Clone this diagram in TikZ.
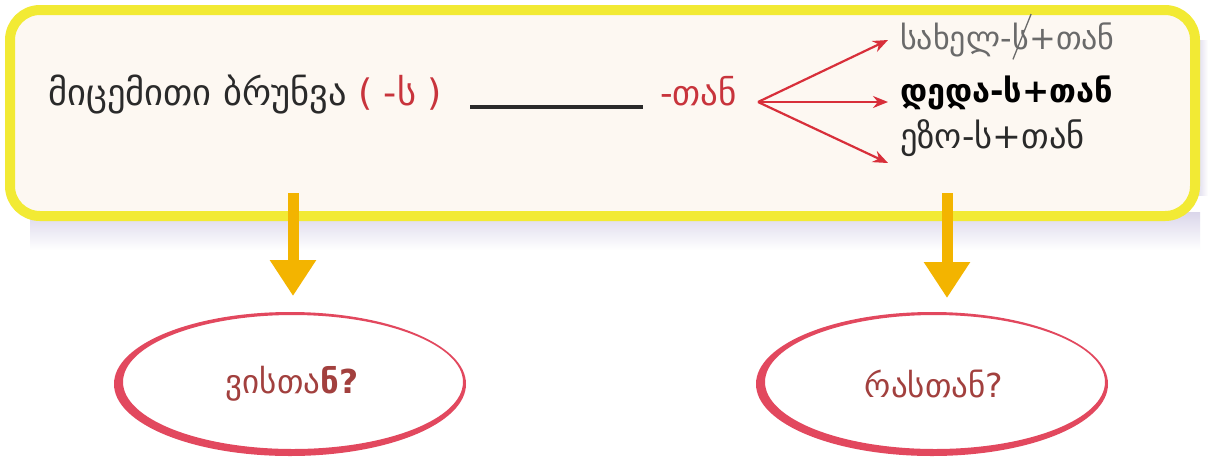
\documentclass[tikz,border=0pt]{standalone}
\usepackage{fontspec}
\setmainfont{DejaVu Sans}
\usetikzlibrary{arrows.meta,shapes.geometric}
\definecolor{boxyellow}{HTML}{F2EA34}
\definecolor{boxfill}{HTML}{FDF8F2}
\definecolor{shadowc}{HTML}{DAD6EA}
\definecolor{redc}{HTML}{C8343C}
\definecolor{arrred}{HTML}{D82F3A}
\definecolor{ellred}{HTML}{E2485E}
\definecolor{qcol}{HTML}{A2403E}
\definecolor{orangec}{HTML}{F3B400}
\definecolor{darktext}{HTML}{2A2A2A}
\definecolor{graytext}{HTML}{6A6A6A}
\tikzset{
  mainbox/.style={draw=boxyellow, line width=10pt, fill=boxfill, rounded corners=30pt,
    minimum width=1185pt, minimum height=206pt, inner sep=0pt},
  maintext/.style={font=\fontsize{36.5}{40}\selectfont, text=darktext, inner sep=0pt},
  formtext/.style={font=\fontsize{32}{36}\selectfont, inner sep=0pt},
  redarrow/.style={draw=arrred, line width=2.2pt, -{Stealth[length=15pt,width=12pt]}},
  blackline/.style={draw=darktext, line width=4pt},
  orangearrow/.style={draw=orangec, line width=11pt, -{Triangle[length=36pt,width=44pt]}},
  qtext/.style={font=\fontsize{33}{38}\selectfont, text=qcol, inner sep=0pt},
  brush/.style={fill=ellred, even odd rule}
}
\begin{document}
\begin{tikzpicture}[x=1pt,y=-1pt]
\useasboundingbox (0,0) rectangle (1208,459);
\fill[white] (0,0) rectangle (1208,459);
% shadow of the box
\shade[top color=shadowc, bottom color=white] (30,212) rectangle (1200,250);
\shade[left color=shadowc, right color=white] (1196,40) rectangle (1208,195);
% main box
\node[mainbox] (box) at (602.5,113) {};
% left text
\node[maintext, anchor=mid west] (case) at (48,103) {მიცემითი ბრუნვა \textcolor{redc}{( -ს )}};
\coordinate (lineL) at (470,107);
\coordinate (lineR) at (643,107);
\draw[blackline] (lineL) -- (lineR);
\node[maintext, font=\fontsize{35}{40}\selectfont, text=redc, anchor=mid west] (than) at (660,103) {-თან};
% fork of arrows
\coordinate (fork) at (758,102);
\coordinate (t1) at (888,40);
\coordinate (t2) at (888,102);
\coordinate (t3) at (888,163);
\draw[redarrow] (fork) -- (t1);
\draw[redarrow] (fork) -- (t2);
\draw[redarrow] (fork) -- (t3);
% right forms
\node[formtext, text=graytext, anchor=mid west] (f1a) at (900,47) {სახელ-};
\node[formtext, text=graytext, anchor=base west] (f1b) at (f1a.base east) {ს};
\node[formtext, text=graytext, anchor=base west] (f1c) at (f1b.base east) {+თან};
\draw[graytext, line width=1.3pt] ([xshift=1pt,yshift=-9pt]f1b.south west) -- ([xshift=2pt,yshift=9pt]f1b.north east);
\node[formtext, text=black, font=\fontsize{32.5}{36}\selectfont\bfseries, anchor=mid west] (f2) at (900,100) {დედა-ს+თან};
\node[formtext, text=darktext, font=\fontsize{34.5}{38}\selectfont, anchor=mid west] (f3) at (900,146) {ეზო-ს+თან};
% question ellipses
\node[qtext] (q1) at (292,384) {ვისთა\textbf{ნ?}};
\node[qtext] (q2) at (934,384) {რასთან?};
\fill[brush] (290,384) ellipse [x radius=176pt, y radius=72pt]
  (293,382) ellipse [x radius=170pt, y radius=67pt];
\fill[brush] (932,384) ellipse [x radius=176pt, y radius=72pt]
  (935,382) ellipse [x radius=170pt, y radius=67pt];
% orange arrows
\coordinate (a1) at (293,193);
\coordinate (a2) at (947,193);
\coordinate (e1) at (293,296);
\coordinate (e2) at (947,298);
\draw[orangearrow] (a1) -- (e1);
\draw[orangearrow] (a2) -- (e2);
\end{tikzpicture}
\end{document}
